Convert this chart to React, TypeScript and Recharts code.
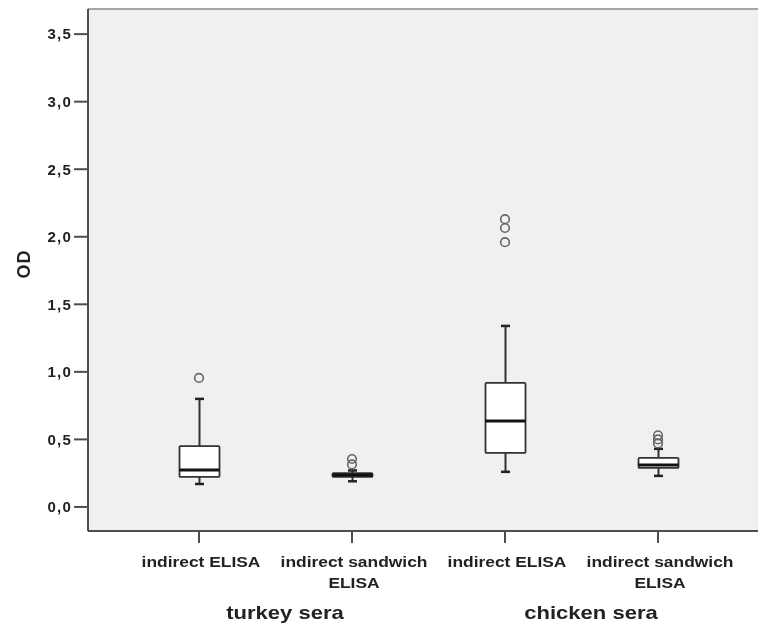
import { ComposedChart, Bar, Scatter, XAxis, YAxis, CartesianGrid, ReferenceLine } from 'recharts';

// box plot statistics (OD)
const categories = ['turkey-indirect', 'turkey-sandwich', 'chicken-indirect', 'chicken-sandwich'];
const tickLines: string[][] = [
  ['indirect ELISA'],
  ['indirect sandwich', 'ELISA'],
  ['indirect ELISA'],
  ['indirect sandwich', 'ELISA'],
];
const groupLabels = ['turkey sera', 'chicken sera'];
const whiskerLow = [0.17, 0.19, 0.26, 0.23];
const q1 = [0.222, 0.222, 0.4, 0.289];
const median = [0.274, 0.237, 0.637, 0.31];
const q3 = [0.45, 0.25, 0.918, 0.363];
const whiskerHigh = [0.8, 0.27, 1.34, 0.43];
const outliers: number[][] = [[0.955], [0.315, 0.355], [1.96, 2.065, 2.13], [0.47, 0.5, 0.53]];
const yTicks = [0, 0.5, 1, 1.5, 2, 2.5, 3, 3.5];
const yDomain: [number, number] = [-0.178, 3.686];

const FONT = '"Liberation Sans", Arial, sans-serif';
const AXIS = '#4d4d4d';

const boxData = categories.map((name, i) => ({
  name,
  range: [whiskerLow[i], whiskerHigh[i]],
  low: whiskerLow[i],
  q1: q1[i],
  median: median[i],
  q3: q3[i],
  high: whiskerHigh[i],
}));

const outlierData = categories.flatMap((name, i) => outliers[i].map((v) => ({ name, value: v })));

const BoxShape = (props: any) => {
  const { x, y, width, height, payload } = props;
  if (x == null || y == null) return null;
  const top = Math.min(y, y + height);
  const h = Math.abs(height);
  const { low, high } = payload;
  const py = (v: number) => top + ((high - v) / (high - low)) * h;
  const cx = x + width / 2;
  const cap = 4.5;
  return (
    <g>
      <line x1={cx} x2={cx} y1={py(high)} y2={py(payload.q3)} stroke="#333" strokeWidth={2} />
      <line x1={cx} x2={cx} y1={py(payload.q1)} y2={py(low)} stroke="#333" strokeWidth={2} />
      <line x1={cx - cap} x2={cx + cap} y1={py(high)} y2={py(high)} stroke="#222" strokeWidth={2.5} />
      <line x1={cx - cap} x2={cx + cap} y1={py(low)} y2={py(low)} stroke="#222" strokeWidth={2.5} />
      <rect
        x={x}
        y={py(payload.q3)}
        width={width}
        height={Math.max(py(payload.q1) - py(payload.q3), 1)}
        fill="#ffffff"
        stroke="#333"
        strokeWidth={1.8}
        rx={1}
      />
      <line x1={x} x2={x + width} y1={py(payload.median)} y2={py(payload.median)} stroke="#111" strokeWidth={3} />
    </g>
  );
};

const OutlierDot = (props: any) => {
  const { cx, cy } = props;
  if (cx == null || cy == null) return null;
  return <circle cx={cx} cy={cy} r={4.3} fill="none" stroke="#666" strokeWidth={1.6} />;
};

// text stretched sideways a bit, like the scanned figure
const WideText = ({ x, y, size, children }: any) => (
  <text
    transform={`translate(${x} ${y}) scale(1.16 1)`}
    textAnchor="middle"
    fontFamily={FONT}
    fontWeight="bold"
    fontSize={size}
    fill="#222"
  >
    {children}
  </text>
);

const CategoryTick = (props: any) => {
  const { x, y, payload } = props;
  const i = payload.index;
  const lines = tickLines[i] || [];
  return (
    <g>
      {lines.map((t, k) => (
        <WideText key={k} x={x + 2} y={y + 22 + k * 21} size={15}>
          {t}
        </WideText>
      ))}
      {i % 2 === 0 && (
        <WideText x={x + 86} y={y + 74} size={19}>
          {groupLabels[i / 2]}
        </WideText>
      )}
    </g>
  );
};

const AxisTitle = (props: any) => {
  const vb = props.viewBox || { x: 0, y: 0, width: 80, height: 522 };
  const cx = vb.x + 16;
  const cy = vb.y + vb.height / 2 - 6;
  return (
    <text
      x={cx}
      y={cy}
      transform={`rotate(-90 ${cx} ${cy})`}
      textAnchor="middle"
      dominantBaseline="central"
      fontFamily={FONT}
      fontWeight="bold"
      fontSize={18}
      letterSpacing={1}
      fill="#222"
    >
      OD
    </text>
  );
};

const fmt = (v: number) => v.toFixed(1).replace('.', ',');

export default function App() {
  return (
    <div style={{ position: 'fixed', left: 8, top: 8 }}>
      <ComposedChart
        width={750}
        height={615}
        data={boxData}
        margin={{ top: 1, right: 0, bottom: 0, left: 0 }}
        style={{ fontFamily: FONT }}
      >
        <CartesianGrid fill="#f0f0f0" horizontal={false} vertical={false} />
        <XAxis
          dataKey="name"
          type="category"
          allowDuplicatedCategory={false}
          padding={{ left: 34.5, right: 23.5 }}
          height={92}
          interval={0}
          tickSize={12}
          stroke={AXIS}
          strokeWidth={2}
          tick={<CategoryTick />}
        />
        <YAxis
          type="number"
          domain={yDomain}
          ticks={yTicks}
          allowDataOverflow
          width={80}
          tickSize={14}
          tickMargin={2}
          stroke={AXIS}
          strokeWidth={2}
          tickFormatter={fmt}
          tick={{ fontFamily: FONT, fontWeight: 'bold', fontSize: 15, fill: '#222', letterSpacing: 1.2 }}
          label={<AxisTitle />}
        />
        <ReferenceLine y={yDomain[1]} stroke="#a6a6a6" strokeWidth={2} />
        <Bar dataKey="range" barSize={40} shape={<BoxShape />} isAnimationActive={false} />
        <Scatter data={outlierData} dataKey="value" shape={<OutlierDot />} isAnimationActive={false} />
      </ComposedChart>
    </div>
  );
}
